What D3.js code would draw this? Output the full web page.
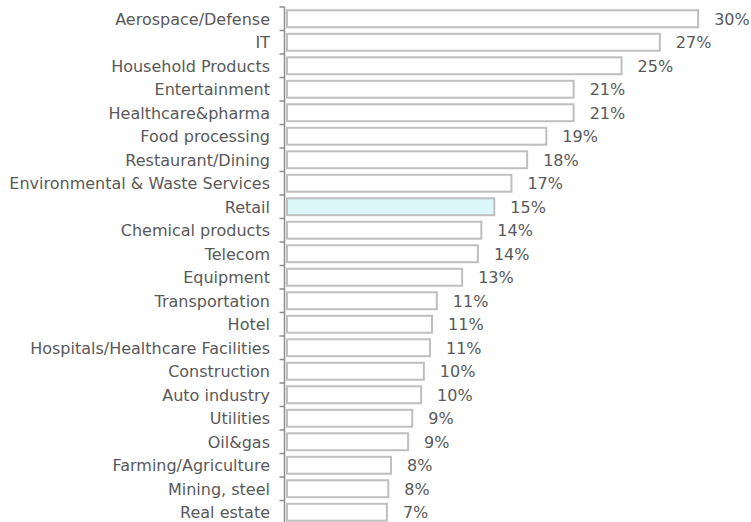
<!DOCTYPE html>
<html>
<head>
<meta charset="utf-8">
<script src="https://cdn.jsdelivr.net/npm/d3@7"></script>
<style>
  html, body { margin: 0; padding: 0; background: #fff; }
  svg { display: block; }
</style>
</head>
<body>
<svg id="chart" width="751" height="522"></svg>
<script>
const categories = [
  "Aerospace/Defense", "IT", "Household Products", "Entertainment", "Healthcare&pharma",
  "Food processing", "Restaurant/Dining", "Environmental & Waste Services", "Retail",
  "Chemical products", "Telecom", "Equipment", "Transportation", "Hotel",
  "Hospitals/Healthcare Facilities", "Construction", "Auto industry", "Utilities",
  "Oil&gas", "Farming/Agriculture", "Mining, steel", "Real estate"
];
const values = [
  30.2, 27.4, 24.6, 21.1, 21.1, 19.1, 17.7, 16.55, 15.3, 14.35, 14.1, 12.95,
  11.1, 10.75, 10.6, 10.15, 9.95, 9.3, 9.0, 7.75, 7.55, 7.45
];
const highlighted = ["Retail"];

const data = categories.map((c, i) => ({ name: c, value: values[i] }));

const svg = d3.select("#chart");
const axisX = 284.5;
const font = "DejaVu Sans, Verdana, sans-serif";

const y = d3.scaleBand()
  .domain(categories)
  .range([7, 7 + categories.length * 23.5])
  .paddingInner(0.28)
  .paddingOuter(0.14);

const x = d3.scaleLinear()
  .domain([0, 1])
  .range([286, 286 + 13.68]);

// bars
svg.append("g").selectAll("rect")
  .data(data)
  .enter().append("rect")
  .attr("x", x(0) + 1)
  .attr("y", d => y(d.name))
  .attr("width", d => x(d.value) - x(0) - 2)
  .attr("height", y.bandwidth())
  .attr("fill", d => highlighted.includes(d.name) ? "#dbf7fa" : "#ffffff")
  .attr("stroke", "#bfbfbf")
  .attr("stroke-width", 2);

// value labels
svg.append("g").selectAll("text")
  .data(data)
  .enter().append("text")
  .attr("x", d => x(d.value) + 15)
  .attr("y", d => y(d.name) + y.bandwidth() / 2)
  .attr("dy", "0.36em")
  .attr("font-family", font)
  .attr("font-size", "16px")
  .attr("fill", "#595959")
  .text(d => Math.round(d.value) + "%");

// axis
const step = y.step();
const boundaries = d3.range(categories.length + 1).map(i => 7 + i * step);
const axisG = svg.append("g");
axisG.append("line")
  .attr("x1", axisX).attr("x2", axisX)
  .attr("y1", 7).attr("y2", 7 + categories.length * step)
  .attr("stroke", "#8c8c8c").attr("stroke-width", 1.5);
axisG.selectAll("line.tick")
  .data(boundaries)
  .enter().append("line")
  .attr("class", "tick")
  .attr("x1", axisX - 5).attr("x2", axisX)
  .attr("y1", d => d).attr("y2", d => d)
  .attr("stroke", "#8c8c8c").attr("stroke-width", 1.5);

// category labels
axisG.selectAll("text")
  .data(categories)
  .enter().append("text")
  .attr("x", 270)
  .attr("y", d => y(d) + y.bandwidth() / 2)
  .attr("dy", "0.36em")
  .attr("text-anchor", "end")
  .attr("font-family", font)
  .attr("font-size", "16px")
  .attr("fill", "#595959")
  .text(d => d);
</script>
</body>
</html>
